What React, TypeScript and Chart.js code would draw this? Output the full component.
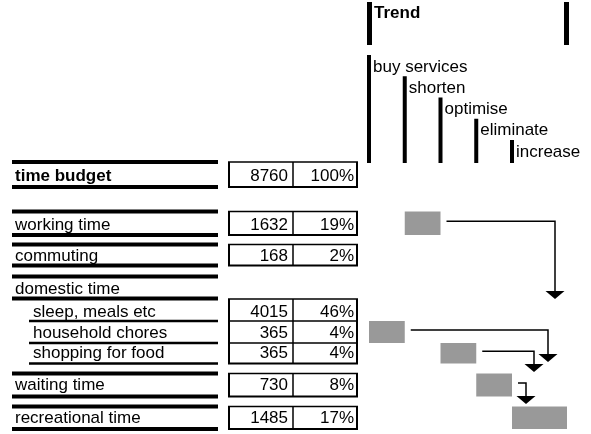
import { useEffect, useRef } from 'react';
import { Chart, registerables } from 'chart.js';

Chart.register(...registerables);

// ---- data ----
const rowLabels = [
  'time budget',
  'working time',
  'commuting',
  'domestic time',
  'sleep, meals etc',
  'household chores',
  'shopping for food',
  'waiting time',
  'recreational time',
];
const rowLevels = [0, 0, 0, 0, 1, 1, 1, 0, 0];
const hoursPerYear: (number | null)[] = [8760, 1632, 168, null, 4015, 365, 365, 730, 1485];
const sharePercent: (number | null)[] = [100, 19, 2, null, 46, 4, 4, 8, 17];
const trendTitle = 'Trend';
const trendLabels = ['buy services', 'shorten', 'optimise', 'eliminate', 'increase'];
// which trend column each row belongs to (null = none)
const rowTrend: (number | null)[] = [null, 1, null, null, null, 0, 2, 3, 4];
// rows whose freed time flows down (arrows)
const arrowRows = [1, 5, 6, 7];

// ---- layout (pixel-space values on the hidden linear scales) ----
const ROW_TOP = [162, 211.5, 244.5, 276.5, 299, 321, 343, 373.5, 406.5];
const ROW_BOTTOM = [187, 235, 265.5, 298.5, 321, 343, 363.5, 396.5, 429];
const ROW_BASE = [181, 230, 261, 294, 317, 338, 358, 390, 423];
const LEFT_X = 12;
const SUB_X = 29;
const RULE_END = 218;
const BOX_L = 229;
const BOX_MID = 293;
const BOX_R = 357;
const COL_X0 = 367;
const COL_STEP = 35.75;
const COL_LAST_R = 567;
const ARROW_X = [555, 548, 534, 526];
const ARROW_TIP = [299, 362, 372, 404];

const FONT = '"Liberation Sans", Arial, Helvetica, sans-serif';
const FS = 17;

const diagramPlugin = {
  id: 'timeDiagram',
  afterDraw(chart: any) {
    const ctx: CanvasRenderingContext2D = chart.ctx;
    const xs = chart.scales.x;
    const ys = chart.scales.y;
    const X = (v: number) => xs.getPixelForValue(v);
    const Y = (v: number) => ys.getPixelForValue(v);

    const hline = (x1: number, x2: number, y: number, w: number) => {
      ctx.beginPath();
      ctx.lineWidth = w;
      ctx.moveTo(X(x1), Y(y));
      ctx.lineTo(X(x2), Y(y));
      ctx.stroke();
    };
    const vline = (x: number, y1: number, y2: number, w: number) => {
      ctx.beginPath();
      ctx.lineWidth = w;
      ctx.moveTo(X(x), Y(y1));
      ctx.lineTo(X(x), Y(y2));
      ctx.stroke();
    };
    const fillRect = (x1: number, y1: number, x2: number, y2: number) => {
      ctx.fillRect(X(x1), Y(y1), X(x2) - X(x1), Y(y2) - Y(y1));
    };

    ctx.save();
    ctx.strokeStyle = '#000';
    ctx.fillStyle = '#000';
    ctx.lineCap = 'butt';

    // ---- left table ----
    rowLabels.forEach((label, i) => {
      const lvl = rowLevels[i];
      const prevLvl = i > 0 ? rowLevels[i - 1] : -1;
      if (lvl === 0) {
        hline(LEFT_X, RULE_END, ROW_TOP[i], 4);
        hline(LEFT_X, RULE_END, ROW_BOTTOM[i], 4);
      } else {
        hline(SUB_X, RULE_END, ROW_BOTTOM[i], 2.5);
      }
      ctx.font = `${i === 0 ? 'bold ' : ''}${FS}px ${FONT}`;
      ctx.textAlign = 'left';
      ctx.textBaseline = 'alphabetic';
      ctx.fillStyle = '#000';
      ctx.fillText(label, X(lvl === 0 ? 15 : 33), Y(ROW_BASE[i]));

      const h = hoursPerYear[i];
      const s = sharePercent[i];
      if (h !== null && s !== null) {
        ctx.font = `${FS}px ${FONT}`;
        ctx.textAlign = 'right';
        ctx.fillText(String(h), X(BOX_MID - 5), Y(ROW_BASE[i]));
        ctx.fillText(`${s}%`, X(BOX_R - 3), Y(ROW_BASE[i]));
        const top = ROW_TOP[i];
        const bot = ROW_BOTTOM[i];
        const groupTop = lvl === 1 && prevLvl === 1 ? null : top;
        if (groupTop !== null) hline(BOX_L - 1, BOX_R + 1, groupTop, 1.5);
        hline(BOX_L - 1, BOX_R + 1, bot, lvl === 1 && rowLevels[i + 1] === 1 ? 1.5 : 2);
        vline(BOX_L, top, bot, 2);
        vline(BOX_MID, top, bot, 1.5);
        vline(BOX_R, top, bot, 2);
      }
    });

    // ---- trend header ----
    ctx.fillStyle = '#000';
    fillRect(COL_X0, 2, COL_X0 + 5, 45);
    fillRect(564, 2, 569, 45);
    ctx.font = `bold ${FS}px ${FONT}`;
    ctx.textAlign = 'left';
    ctx.fillText(trendTitle, X(COL_X0 + 7), Y(18));

    const colX = (c: number) => COL_X0 + c * COL_STEP;
    trendLabels.forEach((t, c) => {
      const top = 55 + c * 21.25;
      fillRect(colX(c), top, colX(c) + 4, 163);
      ctx.font = `${FS}px ${FONT}`;
      ctx.textAlign = 'left';
      ctx.fillText(t, X(colX(c) + 6), Y(top + 16.5));
    });

    // ---- gray boxes ----
    ctx.fillStyle = '#999999';
    rowTrend.forEach((c, i) => {
      if (c === null) return;
      const l = colX(c) + 2;
      const r = c === trendLabels.length - 1 ? COL_LAST_R : colX(c + 1) + 2;
      fillRect(l, ROW_TOP[i], r, ROW_BOTTOM[i]);
    });

    // ---- arrows ----
    ctx.fillStyle = '#000';
    arrowRows.forEach((ri, k) => {
      const c = rowTrend[ri] as number;
      const r = colX(c + 1) + 2;
      const y = (ROW_TOP[ri] + ROW_BOTTOM[ri]) / 2 - 2;
      const ax = ARROW_X[k];
      const tip = ARROW_TIP[k];
      ctx.beginPath();
      ctx.lineWidth = 1.5;
      ctx.moveTo(X(r + 6), Y(y));
      ctx.lineTo(X(ax), Y(y));
      ctx.lineTo(X(ax), Y(tip - 8));
      ctx.stroke();
      ctx.beginPath();
      ctx.moveTo(X(ax - 9.5), Y(tip - 8));
      ctx.lineTo(X(ax + 9.5), Y(tip - 8));
      ctx.lineTo(X(ax), Y(tip));
      ctx.closePath();
      ctx.fill();
    });

    ctx.restore();
  },
};

export default function App() {
  const ref = useRef<HTMLCanvasElement | null>(null);
  useEffect(() => {
    if (!ref.current) return;
    const chart = new Chart(ref.current, {
      type: 'scatter',
      data: { datasets: [{ data: [], pointRadius: 0 }] },
      options: {
        animation: false,
        responsive: false,
        events: [],
        layout: { padding: 0 },
        plugins: { legend: { display: false }, tooltip: { enabled: false }, title: { display: false } },
        scales: {
          x: { type: 'linear', min: 0, max: 591, display: false },
          y: { type: 'linear', min: 0, max: 434, reverse: true, display: false },
        },
      },
      plugins: [diagramPlugin],
    });
    return () => chart.destroy();
  }, []);
  return (
    <div style={{ position: 'absolute', left: 0, top: 0, width: 591, height: 434, background: '#fff' }}>
      <canvas ref={ref} width={591} height={434} style={{ display: 'block' }} />
    </div>
  );
}
